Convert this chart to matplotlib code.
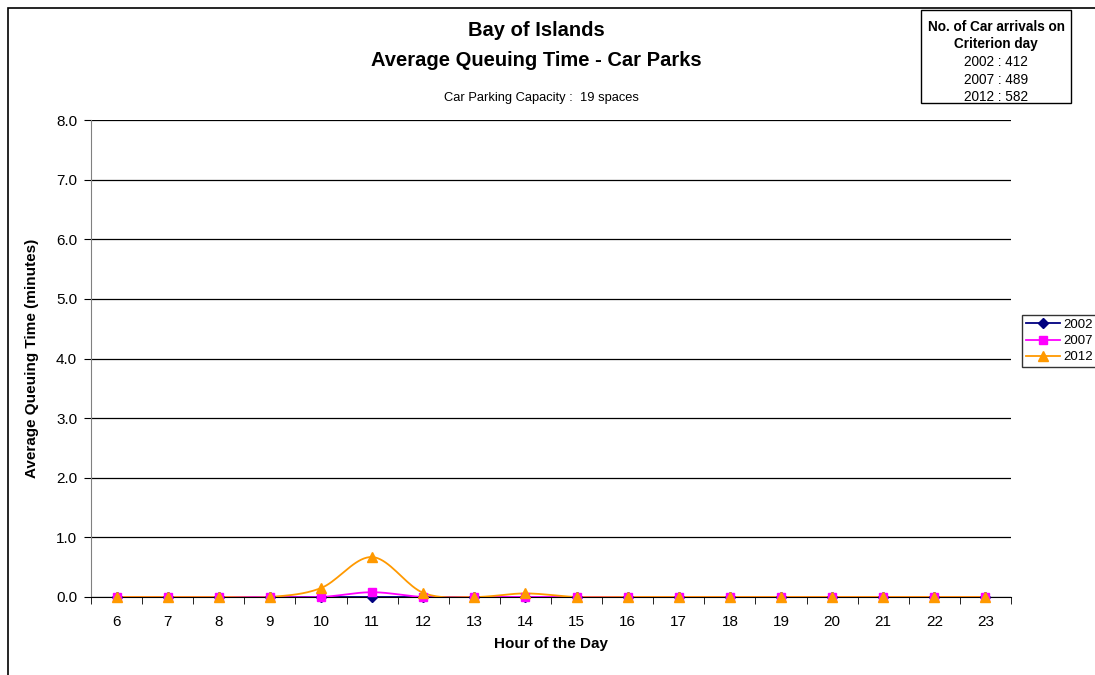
import numpy as np
import matplotlib.pyplot as plt
from matplotlib.lines import Line2D
from matplotlib.patches import Rectangle

plt.rcParams['font.family'] = ['Liberation Sans', 'DejaVu Sans']

hours = [6, 7, 8, 9, 10, 11, 12, 13, 14, 15, 16, 17, 18, 19, 20, 21, 22, 23]
q2002 = [0, 0, 0, 0, 0, 0, 0, 0, 0, 0, 0, 0, 0, 0, 0, 0, 0, 0]
q2007 = [0, 0, 0, 0, 0, 0.08, 0, 0, 0, 0, 0, 0, 0, 0, 0, 0, 0, 0]
q2012 = [0, 0, 0, 0, 0.15, 0.67, 0.07, 0, 0.06, 0, 0, 0, 0, 0, 0, 0, 0, 0]
arrivals = {'2002': 412, '2007': 489, '2012': 582}


def smooth(x, y, n=20):
    # Catmull-Rom style smoothing, like the "smoothed line" option in spreadsheets
    x = np.asarray(x, float)
    y = np.asarray(y, float)
    px = np.concatenate([[x[0]], x, [x[-1]]])
    py = np.concatenate([[y[0]], y, [y[-1]]])
    xs, ys = [], []
    t = np.linspace(0, 1, n)
    for i in range(1, len(px) - 2):
        p0, p1, p2, p3 = py[i - 1], py[i], py[i + 1], py[i + 2]
        q0, q1, q2, q3 = px[i - 1], px[i], px[i + 1], px[i + 2]
        for a, b, c, d, out in ((q0, q1, q2, q3, xs), (p0, p1, p2, p3, ys)):
            c1 = b + (c - a) / 6
            c2 = c - (d - b) / 6
            out.append((1 - t) ** 3 * b + 3 * (1 - t) ** 2 * t * c1
                       + 3 * (1 - t) * t ** 2 * c2 + t ** 3 * c)
    return np.concatenate(xs), np.concatenate(ys)


W, H = 1095, 675
fig = plt.figure(figsize=(W / 100, H / 100), dpi=100)
fig.patches.append(Rectangle((8 / W, -0.1), 1.2, 1.1 - 8 / H,
                             transform=fig.transFigure, fill=False,
                             edgecolor='black', linewidth=1.2))

ax = fig.add_axes([91 / W, 78 / H, 920 / W, 477 / H])
pos = np.arange(len(hours))

series = [('2002', q2002, '#000080', 'D', 5),
          ('2007', q2007, '#FF00FF', 's', 6),
          ('2012', q2012, '#FF9900', '^', 6.5)]
handles = []
for name, vals, col, mk, ms in series:
    sx, sy = smooth(pos, vals)
    ax.plot(sx, sy, color=col, linewidth=1.3, zorder=3)
    ax.plot(pos, vals, linestyle='none', marker=mk, markersize=ms,
            color=col, markeredgecolor=col, zorder=4, clip_on=False)
    handles.append(Line2D([], [], color=col, marker=mk, markersize=ms,
                          linewidth=1.3, label=name))

ax.set_xlim(-0.5, len(hours) - 0.5)
ax.set_ylim(0, 8)
ax.set_yticks(np.arange(0, 8.1, 1))
ax.set_yticklabels(['%.1f' % v for v in np.arange(0, 8.1, 1)], fontsize=11)
ax.set_xticks(pos)
ax.set_xticklabels([str(h) for h in hours], fontsize=11)
ax.set_xticks(np.arange(-0.5, len(hours)), minor=True)
ax.tick_params(axis='x', which='major', length=0, pad=13)
ax.tick_params(axis='x', which='minor', length=5, direction='out')
ax.tick_params(axis='y', length=5, direction='out', pad=5)
ax.grid(axis='y', color='black', linewidth=0.9)
ax.set_axisbelow(True)
for s in ['top', 'right']:
    ax.spines[s].set_visible(False)
ax.spines['left'].set_color('#808080')
ax.spines['bottom'].set_color('black')

ax.set_xlabel('Hour of the Day', fontsize=11, fontweight='bold', labelpad=6)
ax.set_ylabel('Average Queuing Time (minutes)', fontsize=11,
              fontweight='bold', labelpad=12)

fig.text(536 / W, 1 - 30 / H, 'Bay of Islands', ha='center',
         va='center', fontsize=14.5, fontweight='bold')
fig.text(536 / W, 1 - 60 / H, 'Average Queuing Time - Car Parks',
         ha='center', va='center', fontsize=14.5, fontweight='bold')
fig.text(541 / W, 1 - 98 / H, 'Car Parking Capacity :  19 spaces',
         ha='center', va='center', fontsize=9.3)

# arrivals box
fig.patches.append(Rectangle((921 / W, 1 - 103 / H), 150 / W, 93 / H,
                             transform=fig.transFigure, fill=False,
                             edgecolor='black', linewidth=1))
fig.text(996 / W, 1 - 27 / H, 'No. of Car arrivals on', ha='center',
         va='center', fontsize=9.8, fontweight='bold')
fig.text(996 / W, 1 - 44 / H, 'Criterion day', ha='center',
         va='center', fontsize=9.8, fontweight='bold')
for i, (k, v) in enumerate(arrivals.items()):
    fig.text(996 / W, 1 - (62 + 17.5 * i) / H, '%s : %d' % (k, v),
             ha='center', va='center', fontsize=9.8)

leg = fig.legend(handles=handles, loc='center left',
                 bbox_to_anchor=(1022 / W, 1 - 341 / H), fontsize=9.5,
                 frameon=True, fancybox=False, edgecolor='black',
                 handlelength=2.6, borderpad=0.3, labelspacing=0.3,
                 handletextpad=0.2, borderaxespad=0)
leg.get_frame().set_linewidth(1)

fig.savefig('out.png', dpi=100)
